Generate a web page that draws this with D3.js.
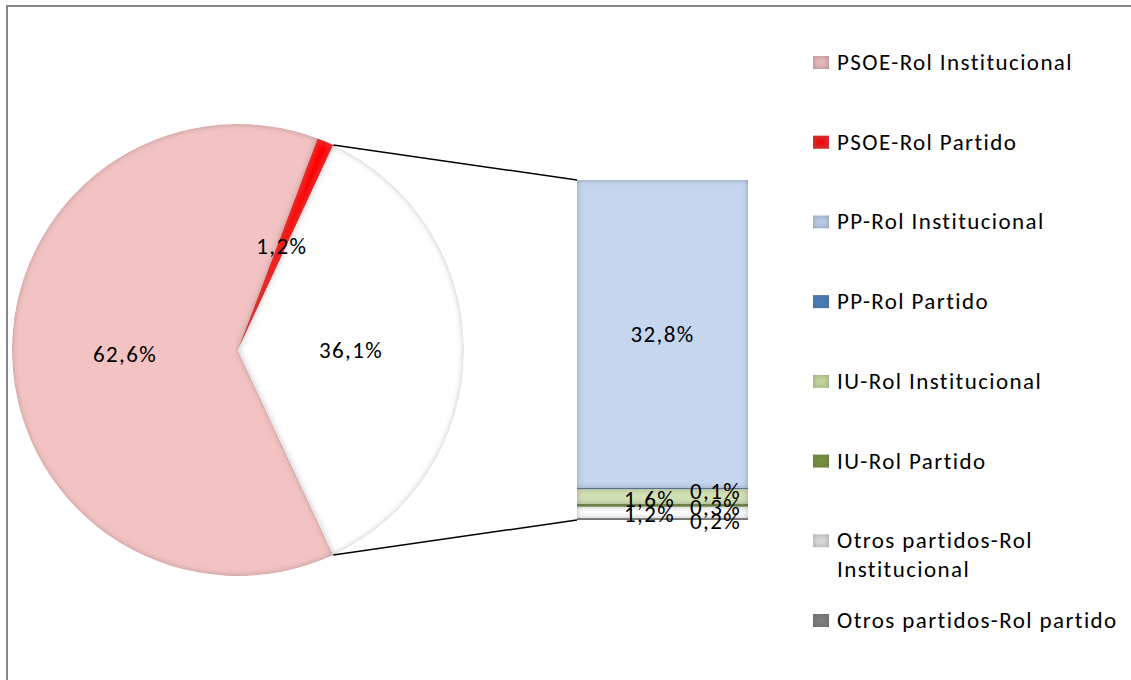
<!DOCTYPE html>
<html>
<head>
<meta charset="utf-8">
<script src="https://cdn.jsdelivr.net/npm/d3@7"></script>
<style>
  body { margin: 0; background: #fff; }
  text { font-family: Calibri, Carlito, "Open Sans", sans-serif; fill: #000; letter-spacing: 1.4px; }
</style>
</head>
<body>
<div id="chart"></div>
<script>
// pie: main slices (the last one is the "rest" that gets split into the bar)
var pieNames = ["PSOE-Rol Institucional", "PSOE-Rol Partido", "Resto"];
var pieValues = [62.6, 1.2, 36.1];
var pieLabels = ["62,6%", "1,2%", "36,1%"];

// bar: the split of the rest, from top to bottom
var barNames = ["PP-Rol Institucional", "PP-Rol Partido", "IU-Rol Institucional",
                "IU-Rol Partido", "Otros partidos-Rol Institucional", "Otros partidos-Rol partido"];
var barValues = [32.8, 0.1, 1.6, 0.3, 1.2, 0.2];
var barLabels = ["32,8%", "0,1%", "1,6%", "0,3%", "1,2%", "0,2%"];

// legend order
var legendNames = ["PSOE-Rol Institucional", "PSOE-Rol Partido", "PP-Rol Institucional", "PP-Rol Partido",
                   "IU-Rol Institucional", "IU-Rol Partido", "Otros partidos-Rol Institucional", "Otros partidos-Rol partido"];
var legendLines = [["PSOE-Rol Institucional"], ["PSOE-Rol Partido"], ["PP-Rol Institucional"], ["PP-Rol Partido"],
                   ["IU-Rol Institucional"], ["IU-Rol Partido"], ["Otros partidos-Rol", "Institucional"], ["Otros partidos-Rol partido"]];

var fills = {
  "PSOE-Rol Institucional": "#f3c3c3",
  "PSOE-Rol Partido": "#ff0000",
  "Resto": "#ffffff",
  "PP-Rol Institucional": "#c4d7ef",
  "PP-Rol Partido": "#4f81bd",
  "IU-Rol Institucional": "#d3e1b5",
  "IU-Rol Partido": "#77933c",
  "Otros partidos-Rol Institucional": "#ffffff",
  "Otros partidos-Rol partido": "#8a8a8a"
};
var legendFills = {
  "PSOE-Rol Institucional": "#e6b9b8",
  "PSOE-Rol Partido": "#ee0000",
  "PP-Rol Institucional": "#b9cde5",
  "PP-Rol Partido": "#4a7ebb",
  "IU-Rol Institucional": "#c3d69b",
  "IU-Rol Partido": "#77933c",
  "Otros partidos-Rol Institucional": "#d9d9d9",
  "Otros partidos-Rol partido": "#7f7f7f"
};

var W = 1131, H = 680;
var svg = d3.select("#chart").append("svg").attr("width", W).attr("height", H);

// soft inner edge, like the office bevel
var defs = svg.append("defs");
var f = defs.append("filter").attr("id", "bevel").attr("x", "-5%").attr("y", "-5%").attr("width", "110%").attr("height", "110%");
f.append("feGaussianBlur").attr("in", "SourceAlpha").attr("stdDeviation", 3).attr("result", "blur");
f.append("feComposite").attr("in", "SourceAlpha").attr("in2", "blur").attr("operator", "arithmetic")
  .attr("k1", 0).attr("k2", 1).attr("k3", -1).attr("k4", 0).attr("result", "edge");
f.append("feFlood").attr("flood-color", "#555").attr("flood-opacity", 0.6).attr("result", "col");
f.append("feComposite").attr("in", "col").attr("in2", "edge").attr("operator", "in").attr("result", "shade");
var fm = f.append("feMerge");
fm.append("feMergeNode").attr("in", "SourceGraphic");
fm.append("feMergeNode").attr("in", "shade");

// chart frame
svg.append("rect").attr("x", 7).attr("y", 6).attr("width", 1140).attr("height", 700)
  .attr("fill", "none").attr("stroke", "#878787").attr("stroke-width", 2);

// ---- pie ----
var cx = 238, cy = 350, R = 226;
var total = d3.sum(pieValues);
var restShare = pieValues[2] / total;
// rest slice is centred on 3 o'clock
var start = Math.PI / 2 + restShare * Math.PI;

var pieData = d3.pie().sort(null).startAngle(start).endAngle(start + 2 * Math.PI)(pieValues);
var arc = d3.arc().innerRadius(0).outerRadius(R);
var labelArc = d3.arc().innerRadius(R * 0.5).outerRadius(R * 0.5);

var gPie = svg.append("g").attr("transform", "translate(" + cx + "," + cy + ")");
gPie.selectAll("path").data(pieData).enter().append("path")
  .attr("d", arc)
  .attr("fill", function(d, i) { return fills[pieNames[i]]; })
  .attr("filter", "url(#bevel)");

gPie.selectAll("text").data(pieData).enter().append("text")
  .attr("transform", function(d) { return "translate(" + labelArc.centroid(d) + ")"; })
  .attr("text-anchor", "middle").attr("dominant-baseline", "central")
  .style("font-size", "23px")
  .text(function(d, i) { return pieLabels[i]; });

// ---- bar ----
var barX0 = 577, barX1 = 748, barTop = 180, barBottom = 520;
var y = d3.scaleLinear().domain([0, d3.sum(barValues)]).range([barTop, barBottom]);
var cum = 0;
var segs = barValues.map(function(v, i) {
  var s = { name: barNames[i], label: barLabels[i], v: v, y0: cum, y1: cum + v };
  cum += v;
  return s;
});

var gBar = svg.append("g");
gBar.selectAll("rect").data(segs).enter().append("rect")
  .attr("x", barX0).attr("width", barX1 - barX0)
  .attr("y", function(d) { return y(d.y0); })
  .attr("height", function(d) { return Math.max(1, y(d.y1) - y(d.y0)); })
  .attr("fill", function(d) { return fills[d.name]; })
  .attr("filter", "url(#bevel)");

var barMid = (barX0 + barX1) / 2;
gBar.selectAll("text").data(segs).enter().append("text")
  .attr("x", function(d) { return d.v > 5 ? barMid : (d.v < 1 ? barMid + 53 : barMid - 13); })
  .attr("y", function(d) { return (y(d.y0) + y(d.y1)) / 2 + (d.v > 5 ? 0 : 2); })
  .attr("text-anchor", "middle").attr("dominant-baseline", "central")
  .style("font-size", "23px")
  .text(function(d) { return d.label; });

// connector lines from the rest slice to the bar
var restArc = pieData[2];
function edgePoint(a) { return [cx + R * Math.sin(a), cy - R * Math.cos(a)]; }
var pTop = edgePoint(restArc.startAngle), pBot = edgePoint(restArc.endAngle);
svg.append("line").attr("x1", pTop[0]).attr("y1", pTop[1]).attr("x2", barX0).attr("y2", y(0))
  .attr("stroke", "#000").attr("stroke-width", 1.5);
svg.append("line").attr("x1", pBot[0]).attr("y1", pBot[1]).attr("x2", barX0).attr("y2", y(d3.sum(barValues)))
  .attr("stroke", "#000").attr("stroke-width", 1.5);

// ---- legend ----
var ly = d3.scaleLinear().domain([0, legendNames.length - 1]).range([62, 620]);
var gLeg = svg.append("g");
var item = gLeg.selectAll("g").data(legendNames).enter().append("g")
  .attr("transform", function(d, i) { return "translate(813," + ly(i) + ")"; });
item.append("rect").attr("x", 0).attr("y", -6).attr("width", 16).attr("height", 13)
  .attr("fill", function(d) { return legendFills[d]; })
  .attr("filter", "url(#bevel)");
item.append("text").attr("x", 24).attr("y", 0)
  .attr("dominant-baseline", "central")
  .style("font-size", "23px")
  .selectAll("tspan").data(function(d, i) { return legendLines[i]; }).enter().append("tspan")
  .attr("x", 24).attr("dy", function(d, j) { return j === 0 ? 0 : 29; })
  .text(function(d) { return d; });
</script>
</body>
</html>
